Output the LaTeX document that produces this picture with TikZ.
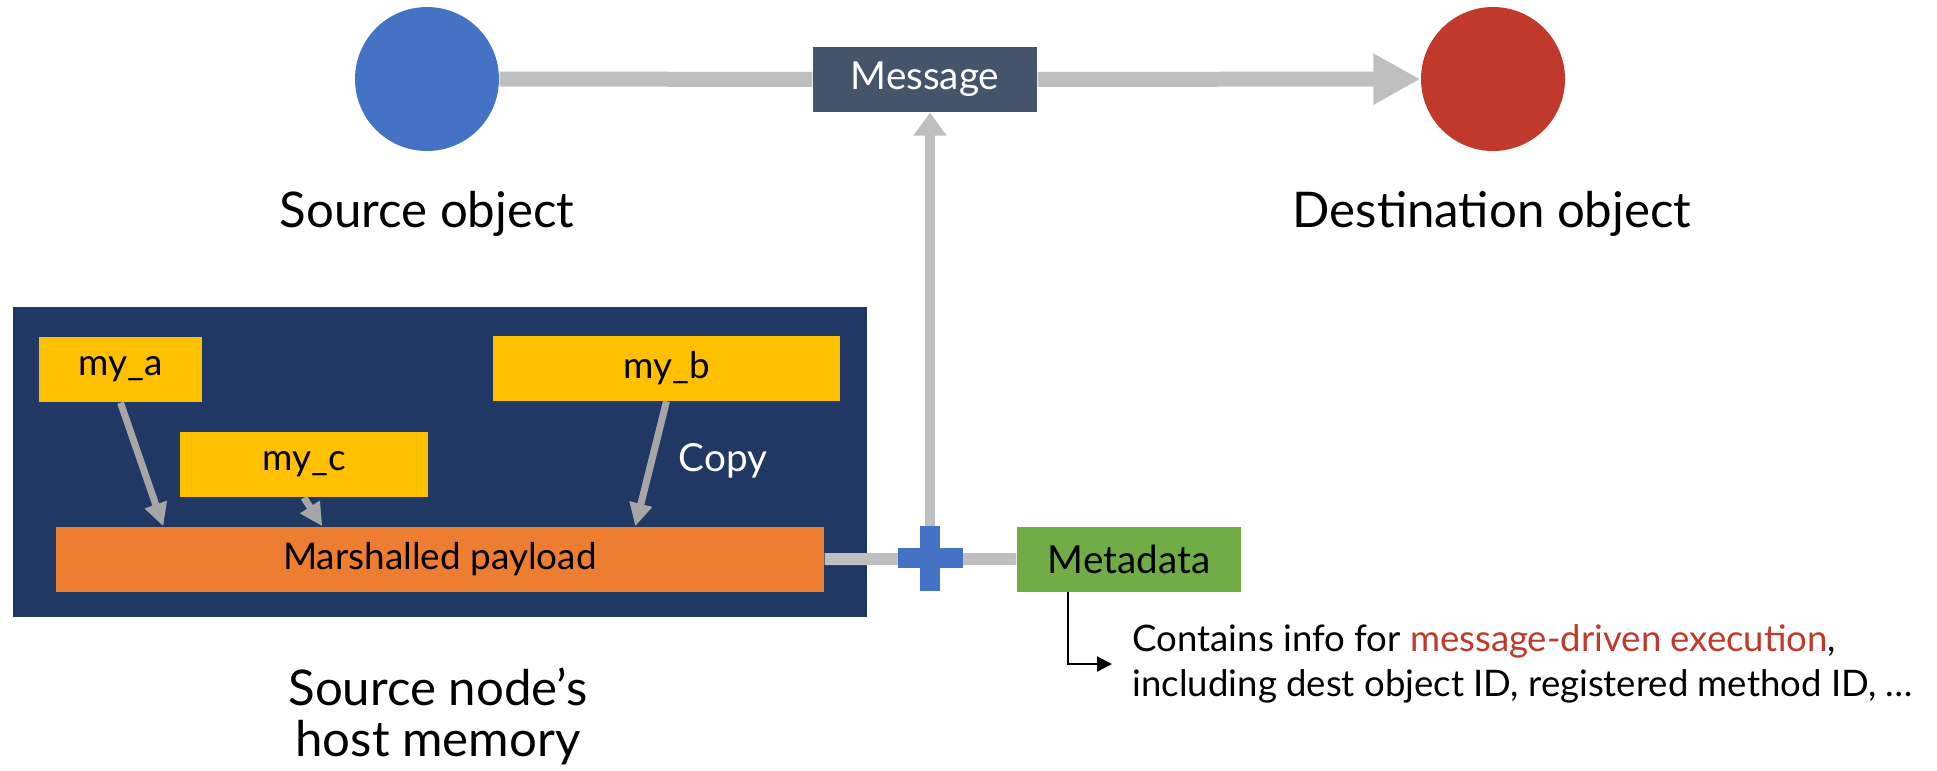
\documentclass[tikz,border=0pt]{standalone}
\usepackage{fontspec}
\setmainfont{Lato}
\usetikzlibrary{arrows.meta,positioning}
\definecolor{srcblue}{HTML}{4472C4}
\definecolor{dstred}{HTML}{C0392B}
\definecolor{msgslate}{HTML}{44546A}
\definecolor{memnavy}{HTML}{203864}
\definecolor{varyellow}{HTML}{FFC000}
\definecolor{payorange}{HTML}{ED7D31}
\definecolor{metagreen}{HTML}{70AD47}
\definecolor{flowgray}{HTML}{BFBFBF}
\definecolor{copygray}{HTML}{A6A6A6}
\newcommand{\labelfont}{\fontsize{14pt}{14.5pt}\selectfont}
\newcommand{\boxfont}{\fontsize{11pt}{12.8pt}\selectfont}
\newcommand{\varfont}{\fontsize{10.5pt}{12pt}\selectfont}
\newcommand{\notefont}{\fontsize{10.4pt}{12.8pt}\selectfont}

\begin{document}
\begin{tikzpicture}[obj node/.style={circle,minimum size=1.44cm,inner sep=0pt},
  box node/.style={rectangle,minimum height=0.65cm,inner sep=0pt,font=\boxfont},
  var node/.style={box node,fill=varyellow,font=\varfont},
  flow/.style={draw=flowgray,line width=0.15cm},
  copy arrow/.style={draw=copygray,line width=0.07cm,-{Triangle[width=0.22cm,length=0.23cm]}}]

  \useasboundingbox (0,0) rectangle (19.37,-7.70);

  % objects and the message
  \node[obj node,fill=srcblue] at (4.27,-0.79) (src) {};
  \node[obj node,fill=dstred] at (14.93,-0.79) (dst) {};
  \node[box node,fill=msgslate,text=white,minimum width=2.24cm] at (9.25,-0.795) (msg) {Message};
  \node[font=\labelfont] at (4.27,-2.14) (srclabel) {Source object};
  \node[font=\labelfont] at (14.92,-2.14) (dstlabel) {Destination object};

  \draw[flow] (src) -- (msg);
  \draw[flow,-{Triangle[width=0.48cm,length=0.47cm]}] (msg) -- (dst);

  % host memory of the source node
  \node[rectangle,fill=memnavy,minimum width=8.54cm,minimum height=3.10cm] at (4.40,-4.62) (mem) {};
  \node[var node,minimum width=1.63cm] at (1.205,-3.695) (mya) {my\_a};
  \node[var node,minimum width=3.47cm] at (6.665,-3.68) (myb) {my\_b};
  \node[var node,minimum width=2.48cm] at (3.04,-4.645) (myc) {my\_c};
  \node[box node,fill=payorange,minimum width=7.68cm,font=\varfont] at (4.40,-5.595) (payload) {Marshalled payload};
  \node[text=white,font=\boxfont] at (7.23,-4.61) (copy) {Copy};
  \node[font=\labelfont,align=center] at (4.38,-7.16) (memlabel) {Source node’s\\host memory};

  \draw[copy arrow] (mya.south) -- ([xshift=1.08cm]payload.north west);
  \draw[copy arrow] (myc.south) -- ([xshift=2.67cm]payload.north west);
  \draw[copy arrow] (myb.south) -- ([xshift=5.80cm]payload.north west);

  % metadata joins the payload
  \node[box node,fill=metagreen,minimum width=2.24cm] at (11.29,-5.59) (meta) {Metadata};
  \coordinate (plus) at (9.30,-5.58);
  \draw[flowgray,line width=0.12cm] (payload) -- (meta);
  \draw[flowgray,line width=0.10cm,-{Triangle[width=0.32cm,length=0.23cm]}] (plus) -- (plus |- msg.south);
  \fill[srcblue] ([xshift=-0.325cm,yshift=-0.10cm]plus) rectangle ([xshift=0.325cm,yshift=0.10cm]plus);
  \fill[srcblue] ([xshift=-0.10cm,yshift=-0.325cm]plus) rectangle ([xshift=0.10cm,yshift=0.325cm]plus);

  \node[anchor=west,align=left,inner sep=0pt,font=\notefont] at (11.32,-6.64) (note) {Contains info for \textcolor{dstred}{message-driven execution},\\including dest object ID, registered method ID, …};
  \coordinate (bend) at (10.68,-6.64);
  \draw[line width=0.6pt,-{Triangle[width=0.15cm,length=0.15cm]}] (meta.south -| bend) -- (bend) -- ([xshift=-0.20cm]note.west);

\end{tikzpicture}
\end{document}
